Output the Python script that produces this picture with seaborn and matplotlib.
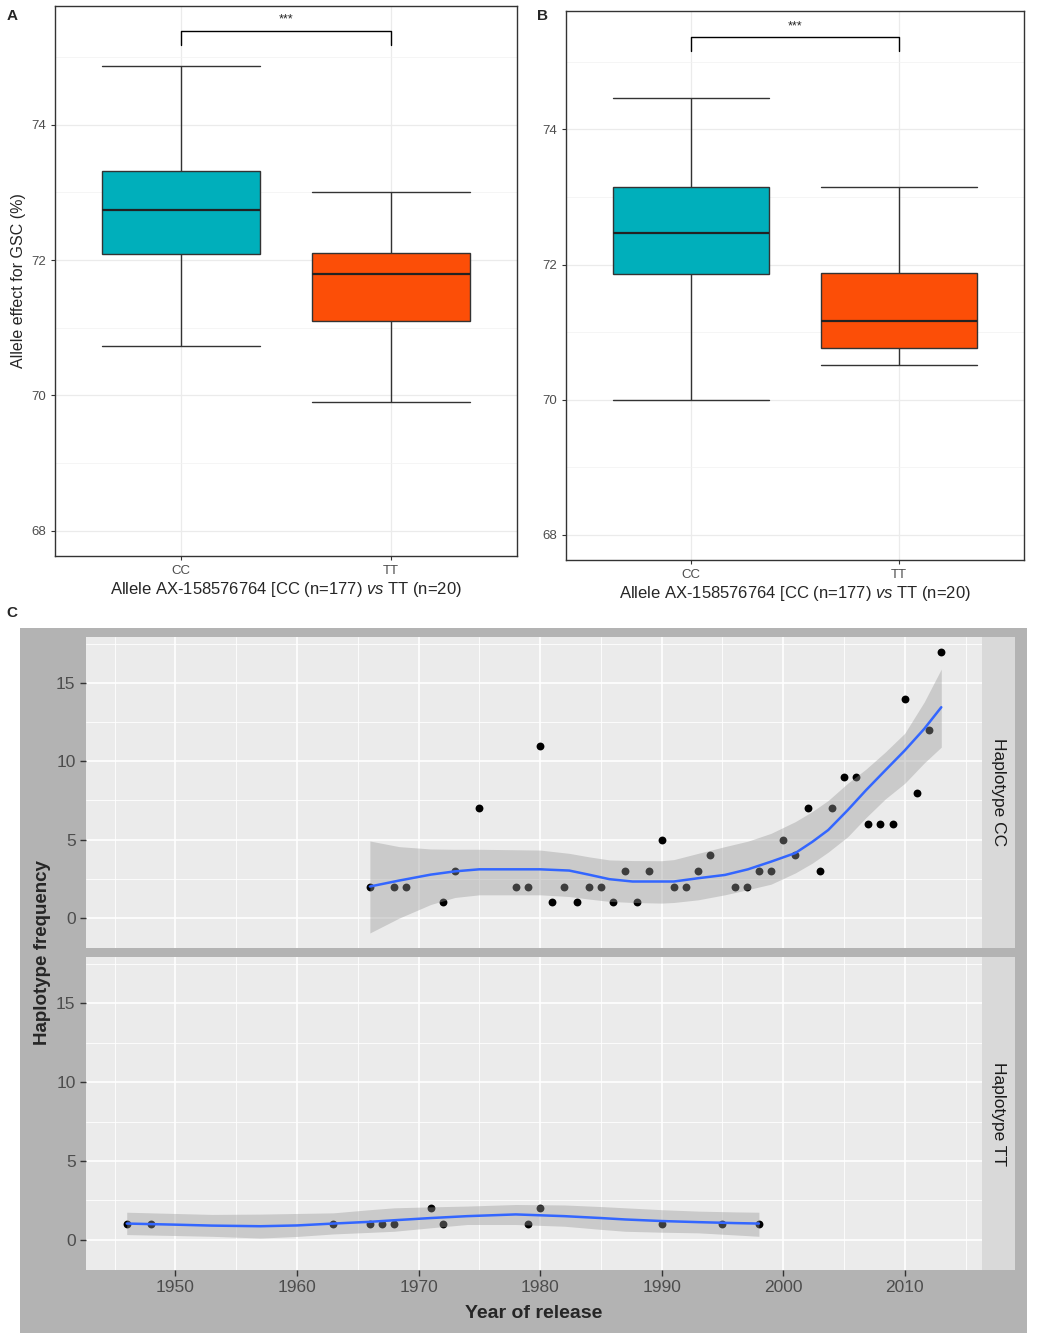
import numpy as np
import pandas as pd
import matplotlib
matplotlib.use("Agg")
import matplotlib.pyplot as plt
from matplotlib.patches import Rectangle
import seaborn as sns

alleles = ["CC", "TT"]
box_colors = ["#00AFBB", "#FC4E07"]
gsc_a_cc = [70.73, 72.09, 72.74, 73.32, 74.87]
gsc_a_tt = [69.91, 71.10, 71.80, 72.11, 73.00]
gsc_b_cc = [70.00, 71.86, 72.47, 73.14, 74.47]
gsc_b_tt = [70.51, 70.77, 71.17, 71.87, 73.14]
bracket_a = 75.38
bracket_b = 75.36
bracket_tip = 0.2
signif = "***"

# panel C: haplotype frequency by year of release
cc_year = [1966, 1968, 1969, 1972, 1973, 1975,
           1978, 1979, 1980, 1981, 1982, 1983, 1984, 1985, 1986, 1987, 1988,
           1989, 1990, 1991, 1992, 1993, 1994,
           1996, 1997, 1998, 1999, 2000, 2001, 2002, 2003, 2004, 2005, 2006,
           2007, 2008, 2009, 2010, 2011, 2012, 2013]
cc_freq = [2, 2, 2, 1, 3, 7,
           2, 2, 11, 1, 2, 1, 2, 2, 1, 3, 1, 3, 5, 2, 2, 3, 4,
           2, 2, 3, 3, 5, 4, 7, 3, 7, 9, 9, 6, 6, 6, 14, 8, 12, 17]
tt_year = [1946, 1948, 1963, 1966, 1967, 1968, 1971, 1972, 1979, 1980, 1990, 1995, 1998]
tt_freq = [1, 1, 1, 1, 1, 1, 2, 1, 1, 2, 1, 1, 1]

# loess fits and their confidence bands
cc_fit_year = [1966, 1968.4, 1971, 1973, 1975, 1980, 1982.4, 1984, 1985.7,
               1987.6, 1990, 1991, 1993, 1995.2, 1997.1, 1999, 2001, 2002.4,
               2003.7, 2005.3, 2006.8, 2008.4, 2010, 2011.6, 2013]
cc_fit = [2.0, 2.38, 2.76, 2.97, 3.10, 3.10, 3.02, 2.76, 2.47,
          2.32, 2.32, 2.32, 2.53, 2.74, 3.10, 3.59, 4.14, 4.86,
          5.61, 6.88, 8.15, 9.43, 10.7, 12.08, 13.46]
cc_lo = [-0.97, -0.02, 0.85, 1.3, 1.47, 1.47, 1.36, 1.2, 1.05,
         0.98, 0.94, 0.98, 1.15, 1.47, 1.8, 2.15, 2.87, 3.5,
         4.2, 5.18, 6.4, 7.6, 8.6, 9.9, 10.91]
cc_hi = [4.91, 4.55, 4.40, 4.38, 4.38, 4.33, 4.12, 3.9, 3.70,
         3.66, 3.65, 3.72, 4.12, 4.55, 4.9, 5.4, 6.15, 6.8,
         7.5, 8.6, 9.5, 10.6, 11.8, 13.8, 15.9]

tt_fit_year = [1946, 1950, 1953, 1957, 1960, 1963, 1966, 1968, 1971, 1974,
               1978, 1982, 1985, 1987, 1990, 1993, 1996, 1998]
tt_fit = [1.02, 0.95, 0.89, 0.85, 0.90, 1.02, 1.13, 1.23, 1.37, 1.49,
          1.6, 1.49, 1.37, 1.28, 1.18, 1.11, 1.05, 1.02]
tt_lo = [0.32, 0.26, 0.21, 0.1, 0.2, 0.36, 0.46, 0.53, 0.75, 0.96,
         0.96, 0.85, 0.65, 0.53, 0.47, 0.43, 0.3, 0.21]
tt_hi = [1.74, 1.66, 1.6, 1.62, 1.66, 1.7, 1.9, 2.02, 2.08, 2.13,
         2.23, 2.2, 2.1, 2.02, 1.9, 1.81, 1.76, 1.74]

sns.set_style("ticks")
plt.rcParams["font.family"] = ["Liberation Sans", "DejaVu Sans"]
plt.rcParams["mathtext.fontset"] = "custom"
plt.rcParams["mathtext.rm"] = "Liberation Sans"
plt.rcParams["mathtext.it"] = "Liberation Sans:italic"

W, H = 1037, 1339
fig = plt.figure(figsize=(W / 100, H / 100), dpi=100)


def px_axes(x0, y0, x1, y1):
    return fig.add_axes([x0 / W, 1 - y1 / H, (x1 - x0) / W, (y1 - y0) / H])


def box_panel(ax, cc, tt, bracket, ylabel):
    df = pd.DataFrame({"allele": np.repeat(alleles, 5), "gsc": cc + tt})
    sns.boxplot(data=df, x="allele", y="gsc", hue="allele", palette=box_colors,
                saturation=1, width=0.75, whis=(0, 100), linecolor="#333333",
                linewidth=1.0, medianprops={"linewidth": 1.6, "color": "#222222"},
                legend=False, ax=ax)
    # caps as wide as the boxes (ggplot errorbar style)
    ends = [min(cc), max(cc), min(tt), max(tt)]
    for ln in ax.lines:
        xd = np.asarray(ln.get_xdata(), float)
        yd = np.asarray(ln.get_ydata(), float)
        if len(xd) == 2 and yd[0] == yd[1] and np.any(np.isclose(yd[0], ends)):
            c = xd.mean()
            ln.set_xdata([c - 0.375, c + 0.375])
    ax.plot([0, 0, 1, 1], [bracket - bracket_tip, bracket, bracket, bracket - bracket_tip],
            color="black", lw=1.0)
    ax.text(0.5, bracket + 0.08, signif, ha="center", va="bottom", fontsize=9)
    ax.set_xlim(-0.6, 1.6)
    ax.set_ylim(67.63, 75.75)
    ax.set_yticks([68, 70, 72, 74])
    ax.set_yticks([69, 71, 73, 75], minor=True)
    ax.grid(which="major", color="#EBEBEB", lw=0.9)
    ax.grid(which="minor", axis="y", color="#F2F2F2", lw=0.5)
    ax.set_axisbelow(True)
    ax.tick_params(which="major", labelsize=9.5, labelcolor="#4D4D4D",
                   color="#333333", length=3, width=0.8)
    ax.tick_params(which="minor", length=0)
    for sp in ax.spines.values():
        sp.set_visible(True)
        sp.set_color("#333333")
        sp.set_linewidth(1.0)
    ax.set_xlabel("Allele AX-158576764 [CC (n=177) $\\it{vs}$ TT (n=20)",
                  fontsize=12, labelpad=2)
    ax.set_ylabel(ylabel, fontsize=11.5, labelpad=4)


ax_a = px_axes(55, 6, 517, 556)
box_panel(ax_a, gsc_a_cc, gsc_a_tt, bracket_a, "Allele effect for GSC (%)")
ax_b = px_axes(566, 11, 1024, 560)
box_panel(ax_b, gsc_b_cc, gsc_b_tt, bracket_b, "")

fig.text(12 / W, 1 - 16 / H, "A", fontsize=11, fontweight="bold", ha="center", va="center")
fig.text(542 / W, 1 - 16 / H, "B", fontsize=11, fontweight="bold", ha="center", va="center")
fig.text(12 / W, 1 - 613 / H, "C", fontsize=11, fontweight="bold", ha="center", va="center")

# panel C: grey plot background like ggplot
fig.patches.append(Rectangle((20 / W, 1 - 1333 / H), (1027 - 20) / W, (1333 - 628) / H,
                             transform=fig.transFigure, facecolor="#B3B3B3",
                             edgecolor="none", zorder=-1))


def facet(ax, years, freq, fyear, fit, lo, hi):
    ax.set_facecolor("#EBEBEB")
    sns.scatterplot(x=years, y=freq, color="black", s=32, linewidth=0, ax=ax, zorder=3)
    ax.fill_between(fyear, lo, hi, color="#999999", alpha=0.4, linewidth=0, zorder=4)
    sns.lineplot(x=fyear, y=fit, color="#3366FF", lw=1.8, ax=ax, zorder=5)
    ax.set_xlim(1942.65, 2016.35)
    ax.set_ylim(-1.93, 17.95)
    ax.set_xticks(range(1950, 2011, 10))
    ax.set_xticks(range(1945, 2016, 10), minor=True)
    ax.set_yticks([0, 5, 10, 15])
    ax.set_yticks([2.5, 7.5, 12.5, 17.5], minor=True)
    ax.grid(which="major", color="white", lw=1.2)
    ax.grid(which="minor", color="white", lw=0.6)
    ax.set_axisbelow(True)
    for sp in ax.spines.values():
        sp.set_visible(False)
    ax.tick_params(which="major", labelsize=12.5, labelcolor="#4D4D4D",
                   color="#333333", length=4, width=1.0)
    ax.tick_params(which="minor", length=0)
    ax.set_xlabel("")
    ax.set_ylabel("")


def strip(ax, label):
    ax.set_facecolor("#D9D9D9")
    ax.set_xticks([])
    ax.set_yticks([])
    for sp in ax.spines.values():
        sp.set_visible(False)
    ax.text(0.5, 0.5, label, rotation=270, ha="center", va="center",
            fontsize=12.5, color="#1A1A1A", transform=ax.transAxes)


ax_cc = px_axes(86, 637, 982, 948)
facet(ax_cc, cc_year, cc_freq, cc_fit_year, cc_fit, cc_lo, cc_hi)
ax_cc.tick_params(axis="x", bottom=False, labelbottom=False)
strip(px_axes(982, 637, 1015, 948), "Haplotype CC")

ax_tt = px_axes(86, 957, 982, 1270)
facet(ax_tt, tt_year, tt_freq, tt_fit_year, tt_fit, tt_lo, tt_hi)
strip(px_axes(982, 957, 1015, 1270), "Haplotype TT")

fig.text(43 / W, 1 - 953 / H, "Haplotype frequency", rotation=90, ha="center",
         va="center", fontsize=13.5, fontweight="bold")
fig.text(534 / W, 1 - 1313 / H, "Year of release", ha="center", va="center",
         fontsize=14, fontweight="bold")

fig.savefig("out.png", dpi=100)
